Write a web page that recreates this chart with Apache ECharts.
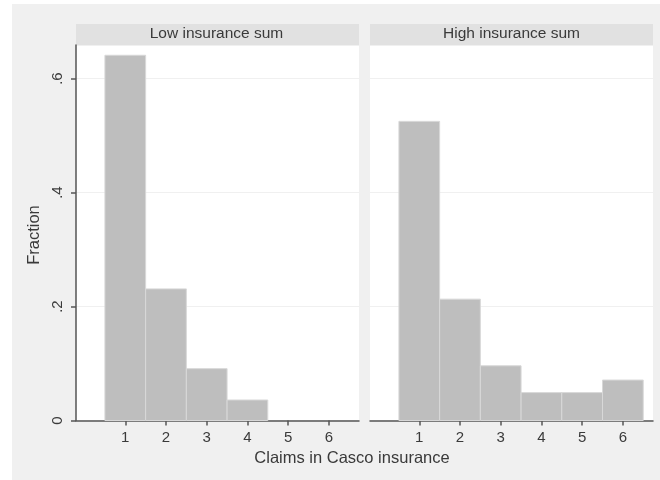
<!DOCTYPE html>
<html>
<head>
<meta charset="utf-8">
<script src="https://cdn.jsdelivr.net/npm/echarts@6/dist/echarts.min.js"></script>
<style>html,body{margin:0;padding:0;background:#fff;}#c{width:660px;height:480px;}</style>
</head>
<body>
<div id="c"></div>
<script>
const categories = [1, 2, 3, 4, 5, 6];
const lowValues = [0.641, 0.231, 0.091, 0.036, 0, 0];
const highValues = [0.525, 0.213, 0.096, 0.049, 0.049, 0.071];
const yTicks = [0, 0.2, 0.4, 0.6];
const panelTitles = ['Low insurance sum', 'High insurance sum'];
const xTitle = 'Claims in Casco insurance';
const yTitle = 'Fraction';

const FONT = '"Liberation Sans", Arial, sans-serif';
const TXT = '#3a3a3a';

function fmtY(v) {
  if (Math.abs(v) < 1e-9) return '0';
  return ('' + Math.round(v * 10) / 10).replace(/^0/, '');
}

function renderBar(params, api) {
  const x = api.value(0), y = api.value(1);
  if (!(y > 0)) return null;
  const p0 = api.coord([x - 0.5, y]);
  const p1 = api.coord([x + 0.5, 0]);
  return {
    type: 'rect',
    shape: { x: p0[0], y: p0[1], width: p1[0] - p0[0], height: p1[1] - p0[1] },
    style: { fill: '#bebebe', stroke: '#d8d8d8', lineWidth: 1 }
  };
}

const grids = [
  { left: 76, top: 45, width: 283, height: 375.5, show: true, backgroundColor: '#fff', borderWidth: 0 },
  { left: 370, top: 45, width: 283, height: 375.5, show: true, backgroundColor: '#fff', borderWidth: 0 }
];

function xAxis(i) {
  return {
    type: 'value', gridIndex: i, min: -0.21, max: 6.74,
    axisLine: { show: true, onZero: false, lineStyle: { color: '#555', width: 1.5 } },
    axisTick: { show: true, customValues: categories, length: 5, lineStyle: { color: '#555', width: 1.5 } },
    axisLabel: { show: true, customValues: categories, color: TXT, fontSize: 15, fontFamily: FONT, margin: 10 },
    splitLine: { show: false }
  };
}
function yAxis(i) {
  return {
    type: 'value', gridIndex: i, min: 0, max: 0.659, interval: 0.2,
    axisLine: { show: i === 0, onZero: false, lineStyle: { color: '#555', width: 1.5 } },
    axisTick: { show: i === 0, length: 5, lineStyle: { color: '#555', width: 1.5 } },
    axisLabel: { show: i === 0, rotate: 90, color: TXT, fontSize: 15, fontFamily: FONT, margin: 11, formatter: fmtY, showMaxLabel: false },
    splitLine: { show: true, lineStyle: { color: '#f0f0f0', width: 1 } }
  };
}

const chart = echarts.init(document.getElementById('c'), null, { renderer: 'canvas' });
chart.setOption({
  backgroundColor: '#fff',
  animation: false,
  graphic: [
    { type: 'rect', z: -10, shape: { x: 12, y: 4, width: 648, height: 476 }, style: { fill: '#f0f0f0' } },
    { type: 'rect', z: -5, shape: { x: 76, y: 24, width: 283, height: 21 }, style: { fill: '#e1e1e1' } },
    { type: 'rect', z: -5, shape: { x: 370, y: 24, width: 283, height: 21 }, style: { fill: '#e1e1e1' } },
    { type: 'text', x: 216.5, y: 34, style: { text: panelTitles[0], fill: TXT, font: '15.5px ' + FONT, textAlign: 'center', textVerticalAlign: 'middle' } },
    { type: 'text', x: 511.5, y: 34, style: { text: panelTitles[1], fill: TXT, font: '15.5px ' + FONT, textAlign: 'center', textVerticalAlign: 'middle' } },
    { type: 'text', x: 352, y: 458, style: { text: xTitle, fill: TXT, font: '16.5px ' + FONT, textAlign: 'center', textVerticalAlign: 'middle' } },
    { type: 'text', x: 34, y: 235, rotation: Math.PI / 2, style: { text: yTitle, fill: TXT, font: '16.5px ' + FONT, textAlign: 'center', textVerticalAlign: 'middle' } }
  ],
  grid: grids,
  xAxis: [xAxis(0), xAxis(1)],
  yAxis: [yAxis(0), yAxis(1)],
  series: [
    { type: 'custom', xAxisIndex: 0, yAxisIndex: 0, renderItem: renderBar, data: categories.map((c, i) => [c, lowValues[i]]) },
    { type: 'custom', xAxisIndex: 1, yAxisIndex: 1, renderItem: renderBar, data: categories.map((c, i) => [c, highValues[i]]) }
  ]
});
</script>
</body>
</html>
